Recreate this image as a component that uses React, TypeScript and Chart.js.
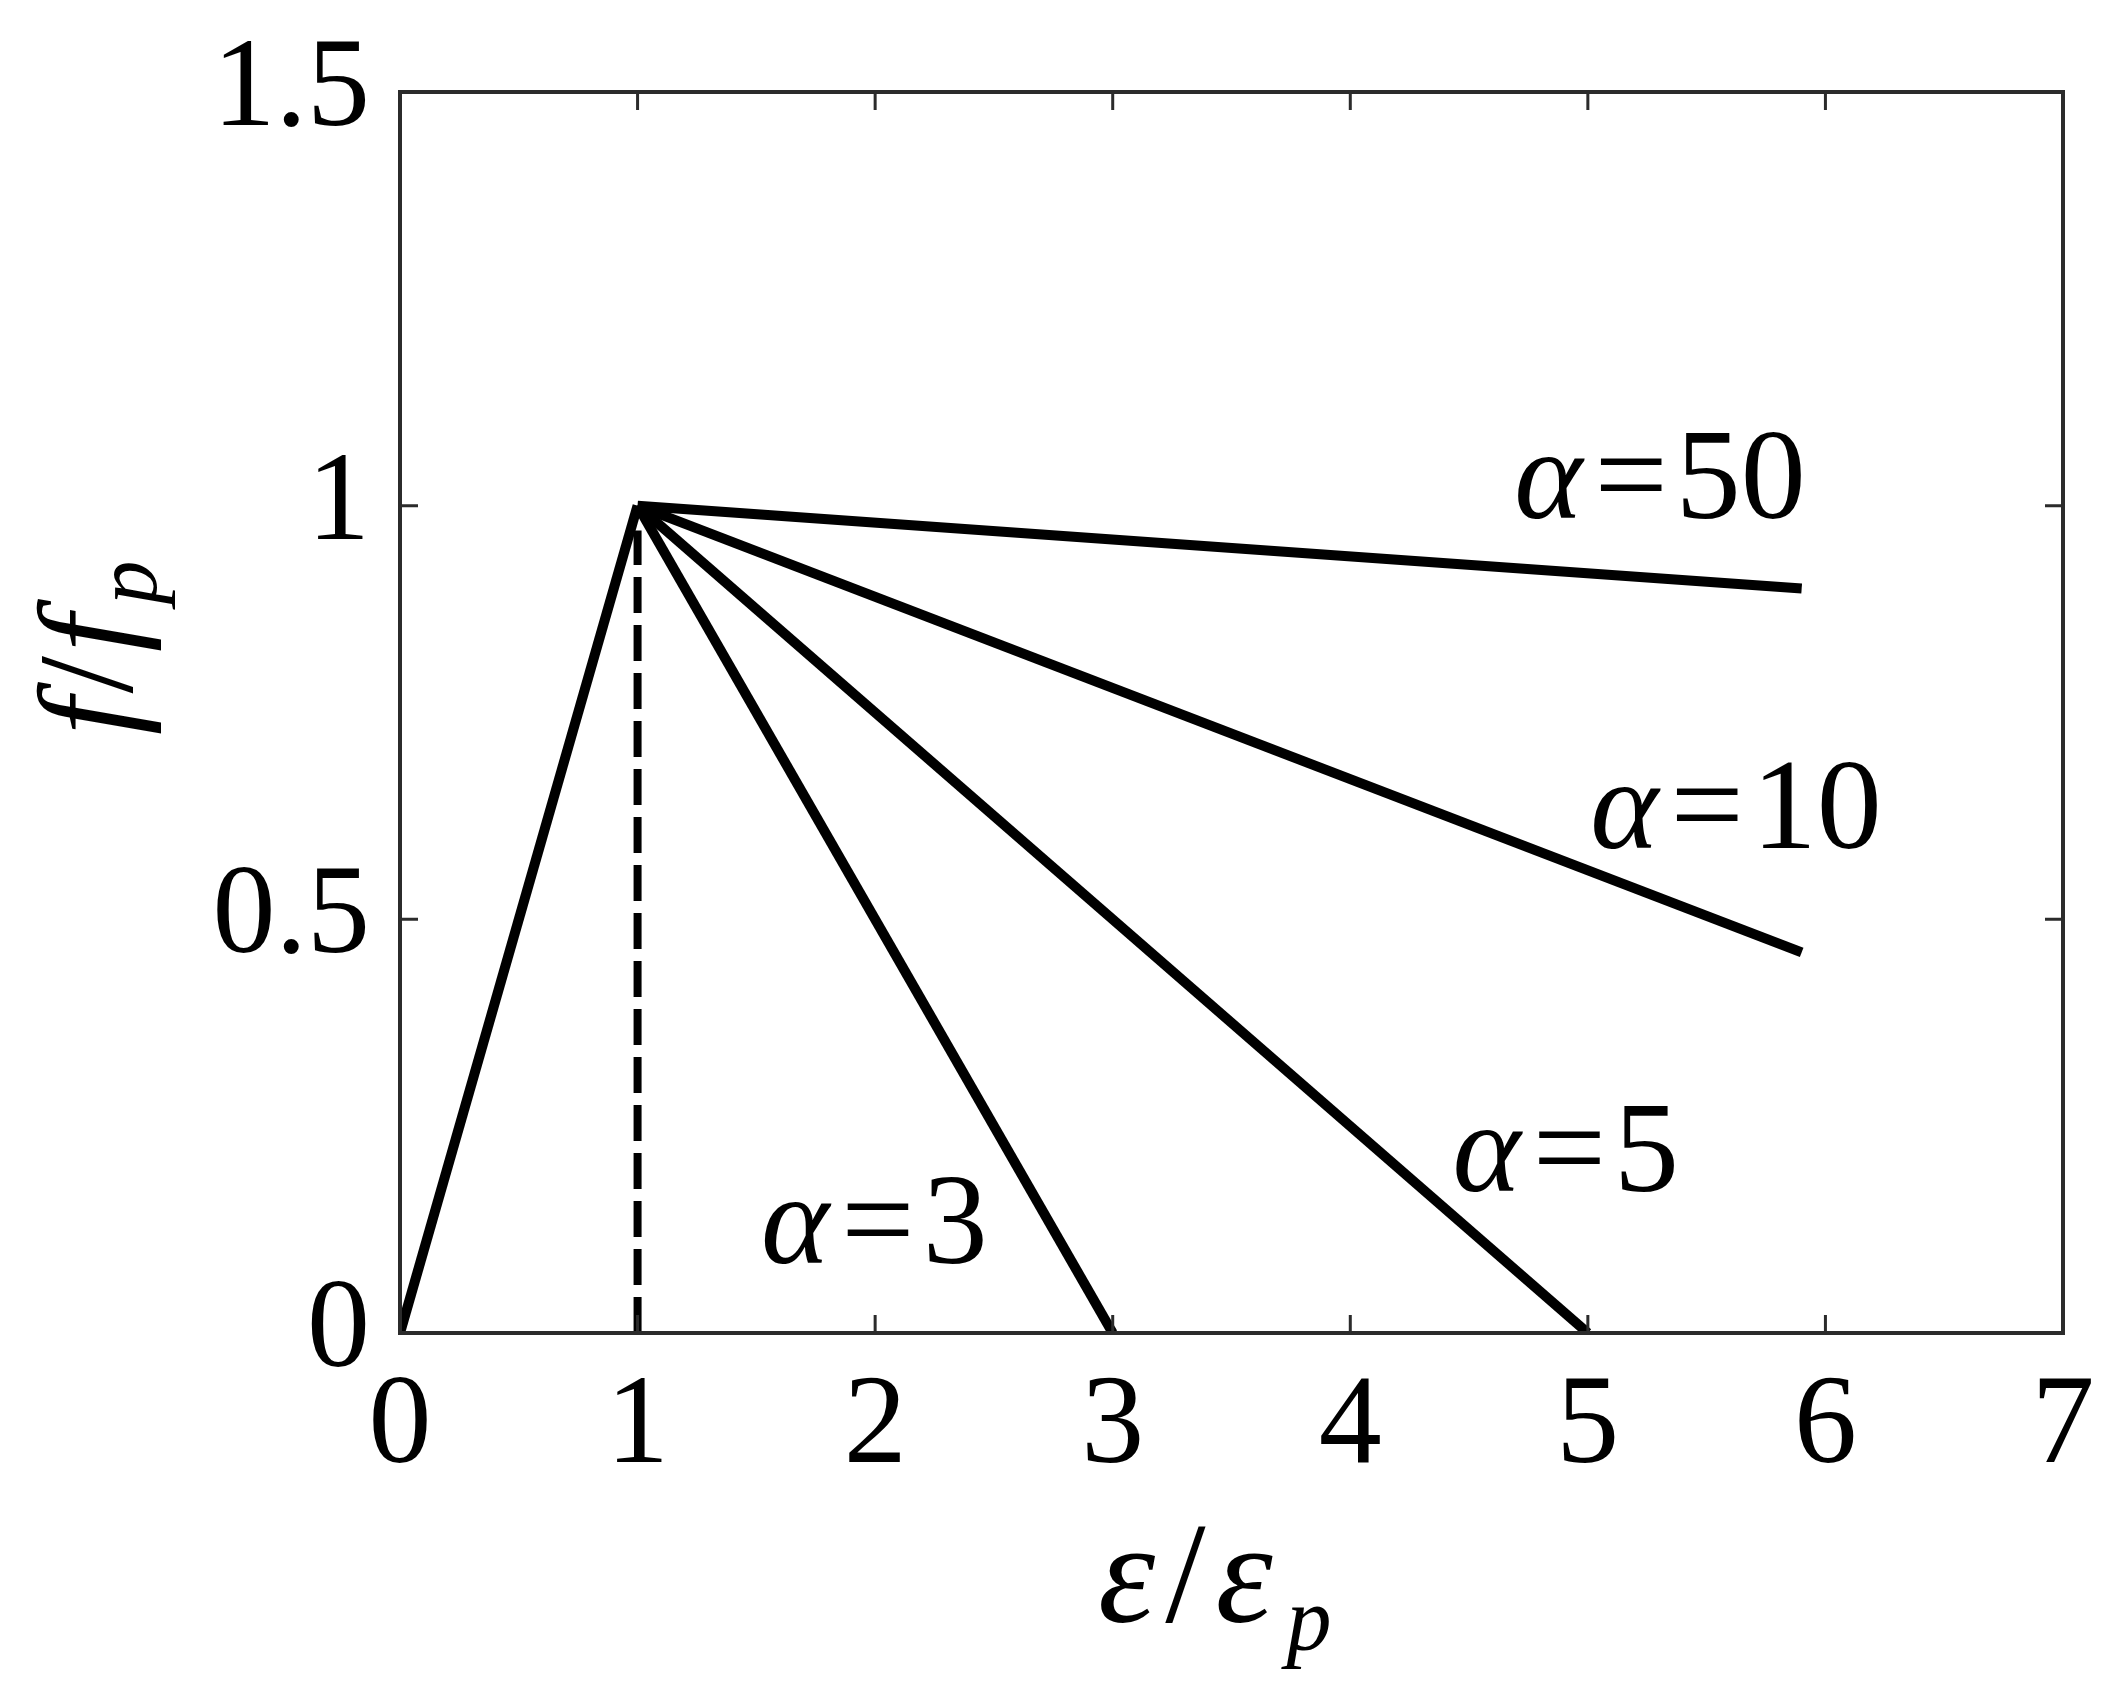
import React, { useEffect, useRef } from 'react';
import { Chart, registerables } from 'chart.js';

Chart.register(...registerables);

// ---- data ----
const xTickValues = [0, 1, 2, 3, 4, 5, 6, 7];
const yTickValues = [0, 0.5, 1, 1.5];
const yTickLabels = ['0', '0.5', '1', '1.5'];

const risingBranch = [{ x: 0, y: 0 }, { x: 1, y: 1 }];
const peakMarker = [{ x: 1, y: 0 }, { x: 1, y: 0.97 }];
const alpha3 = [{ x: 1, y: 1 }, { x: 3, y: 0 }];
const alpha5 = [{ x: 1, y: 1 }, { x: 5, y: 0 }];
const alpha10 = [{ x: 1, y: 1 }, { x: 5.9, y: 0.46 }];
const alpha50 = [{ x: 1, y: 1 }, { x: 5.9, y: 0.9 }];

const curveNames = ['3', '5', '10', '50'];
// label anchor (left, baseline) in data units
const curveLabelX = [1.52, 4.43, 5.01, 4.69];
const curveLabelY = [0.085, 0.172, 0.586, 0.985];

const SERIF = '"Liberation Serif", "Times New Roman", serif';
const FONT_SIZE = 126;
const LABEL_SIZE = 130;

const decorPlugin = {
  id: 'decor',
  afterDatasetsDraw(chart: any) {
    const { ctx, chartArea } = chart;
    const { left, right, top, bottom } = chartArea;
    const xs = chart.scales.x;
    const ys = chart.scales.y;
    ctx.save();
    ctx.strokeStyle = '#2b2b2b';
    ctx.lineWidth = 4;
    ctx.strokeRect(left, top, right - left, bottom - top);
    ctx.lineWidth = 3;
    const tl = 18;
    ctx.beginPath();
    xTickValues.forEach((v) => {
      const px = xs.getPixelForValue(v);
      if (Math.abs(px - left) < 2 || Math.abs(px - right) < 2) return;
      ctx.moveTo(px, bottom);
      ctx.lineTo(px, bottom - tl);
      ctx.moveTo(px, top);
      ctx.lineTo(px, top + tl);
    });
    yTickValues.forEach((v) => {
      const py = ys.getPixelForValue(v);
      if (Math.abs(py - top) < 2 || Math.abs(py - bottom) < 2) return;
      ctx.moveTo(left, py);
      ctx.lineTo(left + tl, py);
      ctx.moveTo(right, py);
      ctx.lineTo(right - tl, py);
    });
    ctx.stroke();
    ctx.restore();
  },
  afterDraw(chart: any) {
    const { ctx } = chart;
    const xs = chart.scales.x;
    const ys = chart.scales.y;
    ctx.save();
    ctx.fillStyle = '#000';
    ctx.textBaseline = 'alphabetic';
    ctx.textAlign = 'left';

    // curve labels
    curveNames.forEach((n, i) => {
      const px = xs.getPixelForValue(curveLabelX[i]);
      const py = ys.getPixelForValue(curveLabelY[i]);
      ctx.font = `italic ${LABEL_SIZE}px ${SERIF}`;
      ctx.fillText('α', px, py);
      const w = ctx.measureText('α').width;
      ctx.font = `${LABEL_SIZE}px ${SERIF}`;
      ctx.fillText('=', px + w + 12, py);
      const we = ctx.measureText('=').width;
      ctx.fillText(n, px + w + 12 + we + 8, py);
    });

    // x-axis title: ε/ε_p
    {
      const bx = 1098;
      const by = 1622;
      ctx.font = `italic 145px ${SERIF}`;
      ctx.fillText('ε', bx, by);
      let w = ctx.measureText('ε').width + 10;
      ctx.font = `145px ${SERIF}`;
      ctx.fillText('/', bx + w, by);
      w += ctx.measureText('/').width + 10;
      ctx.font = `italic 145px ${SERIF}`;
      ctx.fillText('ε', bx + w, by);
      w += ctx.measureText('ε').width;
      ctx.font = `italic 90px ${SERIF}`;
      ctx.fillText('p', bx + w + 14, by + 28);
    }

    // y-axis title: f/f_p (rotated)
    {
      ctx.translate(132, 735);
      ctx.rotate(-Math.PI / 2);
      ctx.font = `italic 135px ${SERIF}`;
      ctx.fillText('f', 0, 0);
      let w = ctx.measureText('f').width;
      ctx.font = `135px ${SERIF}`;
      ctx.fillText('/', w + 4, 0);
      w += ctx.measureText('/').width + 8;
      ctx.font = `italic 135px ${SERIF}`;
      ctx.fillText('f', w, 0);
      w += ctx.measureText('f').width;
      ctx.font = `italic 88px ${SERIF}`;
      ctx.fillText('p', w + 10, 24);
    }
    ctx.restore();
  },
};

export default function App() {
  const ref = useRef<HTMLCanvasElement | null>(null);

  useEffect(() => {
    document.body.style.margin = '0';
    const canvas = ref.current;
    if (!canvas) return;
    const solid = (data: any[]) => ({
      data,
      borderColor: '#000',
      borderWidth: 10,
      pointRadius: 0,
      fill: false,
      tension: 0,
      borderCapStyle: 'butt',
    });
    const chart = new Chart(canvas, {
      type: 'line',
      data: {
        datasets: [
          solid(risingBranch),
          {
            ...solid(peakMarker),
            borderWidth: 8,
            borderDash: [36, 12],
          },
          solid(alpha3),
          solid(alpha5),
          solid(alpha10),
          solid(alpha50),
        ] as any,
      },
      options: {
        animation: false,
        responsive: false,
        devicePixelRatio: 1,
        layout: { padding: { left: 0, top: 92, right: 65, bottom: 0 } },
        plugins: {
          legend: { display: false },
          tooltip: { enabled: false },
          title: { display: false },
        },
        scales: {
          x: {
            type: 'linear',
            min: 0,
            max: 7,
            afterFit: (s: any) => {
              s.height = 369;
              s.paddingLeft = 0;
              s.paddingRight = 0;
            },
            afterBuildTicks: (s: any) => {
              s.ticks = xTickValues.map((v) => ({ value: v }));
            },
            grid: { display: true, drawOnChartArea: false, drawTicks: false },
            border: { display: false },
            ticks: {
              padding: 20,
              color: '#000',
              font: { family: SERIF, size: FONT_SIZE },
              callback: (v: any) => String(v),
            },
          },
          y: {
            type: 'linear',
            min: 0,
            max: 1.5,
            afterFit: (s: any) => {
              s.width = 400;
              s.paddingTop = 0;
              s.paddingBottom = 0;
            },
            afterBuildTicks: (s: any) => {
              s.ticks = yTickValues.map((v) => ({ value: v }));
            },
            grid: { display: true, drawOnChartArea: false, drawTicks: false },
            border: { display: false },
            ticks: {
              padding: 30,
              color: '#000',
              font: { family: SERIF, size: FONT_SIZE },
              callback: (v: any) => {
                const i = yTickValues.indexOf(Number(v));
                return i >= 0 ? yTickLabels[i] : '';
              },
            },
          },
        },
      },
      plugins: [decorPlugin],
    } as any);
    return () => chart.destroy();
  }, []);

  return (
    <div style={{ position: 'fixed', left: 0, top: 0, width: 2128, height: 1702, background: '#fff' }}>
      <canvas ref={ref} width={2128} height={1702} style={{ width: 2128, height: 1702, display: 'block' }} />
    </div>
  );
}
